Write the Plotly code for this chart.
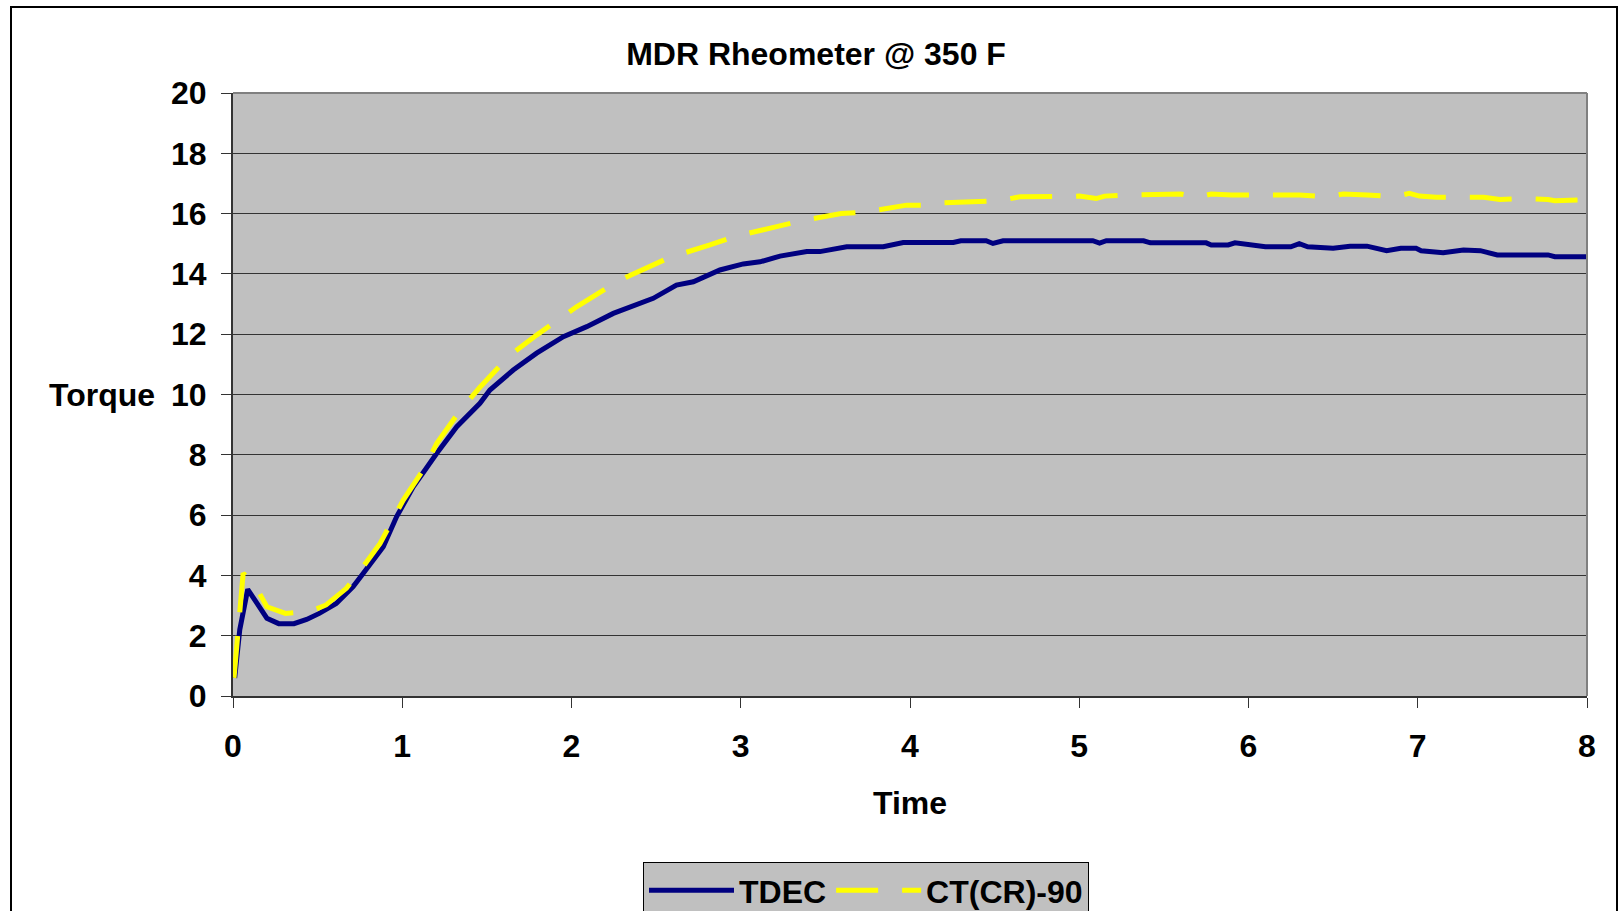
import plotly.graph_objects as go

# ---- data ----
tdec_time = [0.01, 0.04, 0.087, 0.15, 0.2, 0.27, 0.36, 0.435, 0.51, 0.61, 0.71, 0.77,
             0.888, 0.967, 1.065, 1.204, 1.322, 1.459, 1.518, 1.656, 1.794, 1.952,
             2.09, 2.247, 2.483, 2.62, 2.72, 2.877, 3.015, 3.114, 3.232, 3.39, 3.468,
             3.626, 3.842, 3.96, 4.256, 4.3, 4.45, 4.49, 4.55, 5.08, 5.12, 5.16, 5.38,
             5.42, 5.75, 5.78, 5.88, 5.92, 6.01, 6.1, 6.25, 6.3, 6.35, 6.45, 6.5, 6.6,
             6.7, 6.816, 6.9, 6.99, 7.02, 7.15, 7.27, 7.37, 7.47, 7.77, 7.81, 8.0]
tdec_torque = [0.6, 2.2, 3.54, 3.0, 2.58, 2.4, 2.4, 2.54, 2.74, 3.07, 3.63, 4.07,
               4.95, 5.95, 6.94, 8.05, 8.93, 9.71, 10.15, 10.81, 11.37, 11.92,
               12.25, 12.69, 13.19, 13.63, 13.74, 14.13, 14.33, 14.4, 14.59, 14.74, 14.74,
               14.9, 14.9, 15.04, 15.04, 15.1, 15.1, 15.01, 15.1, 15.1, 15.02, 15.1, 15.1,
               15.03, 15.03, 14.96, 14.96, 15.03, 14.96, 14.9, 14.9, 15.0, 14.9, 14.85, 14.85, 14.92,
               14.92, 14.77, 14.85, 14.85, 14.77, 14.7, 14.79, 14.77, 14.63, 14.63, 14.57, 14.57]

ct_time = [0.006, 0.06, 0.13, 0.2, 0.31, 0.455, 0.55, 0.67, 0.79, 0.869, 1.006, 1.124,
           1.204, 1.351, 1.459, 1.637, 1.794, 2.03, 2.287, 2.405, 2.582, 2.818, 2.976,
           3.2, 3.357, 3.594, 3.75, 3.98, 4.14, 4.2, 4.37, 4.53, 4.65, 4.8, 5.0, 5.1,
           5.15, 5.3, 5.45, 5.6, 5.7, 5.78, 5.9, 6.1, 6.2, 6.3, 6.47, 6.56, 6.7, 6.86,
           6.95, 7.01, 7.11, 7.25, 7.39, 7.485, 7.64, 7.77, 7.81, 7.95]
ct_torque = [0.6, 4.07, 3.68, 2.96, 2.74, 2.8, 3.02, 3.57, 4.45, 5.06, 6.5, 7.5,
             8.38, 9.54, 10.24, 11.31, 11.97, 12.91, 13.8, 14.1, 14.55, 14.96, 15.26,
             15.55, 15.76, 16.0, 16.06, 16.28, 16.28, 16.36, 16.4, 16.43, 16.56, 16.56, 16.58, 16.5,
             16.58, 16.62, 16.62, 16.65, 16.55, 16.65, 16.62, 16.62, 16.65, 16.62, 16.56, 16.65, 16.62, 16.56,
             16.67, 16.58, 16.54, 16.56, 16.54, 16.47, 16.5, 16.47, 16.43, 16.45]

title_text = "MDR Rheometer @ 350 F"
x_title = "Time"
y_title = "Torque"
series_names = ["TDEC", "CT(CR)-90"]

FONT = "Liberation Sans, Arial, sans-serif"
FS = 32

fig = go.Figure()
fig.add_trace(go.Scatter(x=tdec_time, y=tdec_torque, mode="lines", name=series_names[0],
                         line=dict(color="#000080", width=5)))
fig.add_trace(go.Scatter(x=ct_time, y=ct_torque, mode="lines", name=series_names[1],
                         line=dict(color="#FFFF00", width=5, dash="42px,24px")))

W, H = 1623, 911
L, R, T, B = 233, 1587, 93, 696
pw, ph = R - L, B - T

def px(xp):
    return (xp - L) / pw

def py(yp):
    return (B - yp) / ph

bold = dict(family=FONT, size=FS, weight="bold", color="black")

fig.update_layout(
    width=W, height=H,
    margin=dict(l=L, r=W - R, t=T, b=H - B, autoexpand=False),
    paper_bgcolor="white",
    plot_bgcolor="#C0C0C0",
    font=bold,
    title=dict(text=title_text, x=816 / W, xanchor="center", y=1 - 54 / H, yanchor="middle",
               font=bold),
    showlegend=True,
    legend=dict(orientation="h", x=px(643), y=py(862), xanchor="left", yanchor="top",
                bgcolor="#C0C0C0", bordercolor="black", borderwidth=1,
                itemwidth=85,
                font=bold),
    xaxis=dict(range=[0, 8], dtick=1, tick0=0, showgrid=False, zeroline=False,
               showline=True, linecolor="#333333", linewidth=2,
               ticks="outside", ticklen=10, tickcolor="#333333", tickwidth=1,
               ticklabelstandoff=11,
               tickfont=bold),
    yaxis=dict(range=[0, 20], dtick=2, tick0=0, showgrid=True, gridcolor="#333333", gridwidth=1,
               zeroline=False, showline=True, linecolor="#333333", linewidth=2,
               ticks="outside", ticklen=10, tickcolor="#333333", tickwidth=1,
               ticklabelstandoff=8,
               tickfont=bold),
    shapes=[
        dict(type="line", xref="paper", yref="paper", x0=0, x1=1, y0=1, y1=1,
             line=dict(color="#808080", width=2), layer="above"),
        dict(type="line", xref="paper", yref="paper", x0=1, x1=1, y0=0, y1=1,
             line=dict(color="#808080", width=2), layer="above"),
        dict(type="rect", xref="paper", yref="paper", x0=px(11), x1=px(1617), y0=py(930), y1=py(7),
             line=dict(color="black", width=2), fillcolor="rgba(0,0,0,0)", layer="above"),
    ],
    annotations=[
        dict(text=y_title, xref="paper", yref="paper", x=px(157), y=0.5, xanchor="right",
             yanchor="middle", showarrow=False, font=bold),
        dict(text=x_title, xref="paper", yref="paper", x=0.5, y=py(803), xanchor="center",
             yanchor="middle", showarrow=False, font=bold),
    ],
)

fig.write_html("out.html", config={"displayModeBar": False},
               post_script="document.body.style.margin='0';")
